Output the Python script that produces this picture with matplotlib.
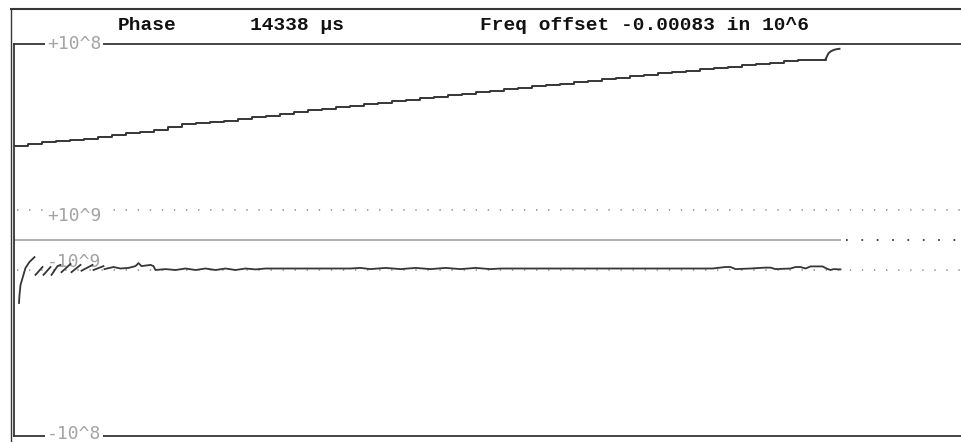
import numpy as np
import matplotlib.pyplot as plt
from matplotlib.lines import Line2D

# phase trace: one reading every 14 ticks, height above the lower frame edge
phase_step = 14
phase_h = [290, 292.2, 293.8, 294.9, 296.1, 297.5, 298.9, 300.9, 303, 304.5,
           306.5, 309.5, 311.7, 313, 314.2, 315.5, 317.2, 318.8, 320.5, 322.2,
           324, 325.7, 327.2, 328.7, 330.3, 331.8, 333.4, 334.9, 336.4, 337.9,
           339.4, 340.9, 342.4, 343.9, 345.4, 346.9, 348.3, 349.7, 351.1, 352.5,
           353.9, 355.4, 357, 358.4, 359.8, 361.4, 363, 364.2, 365.4, 366.8,
           368.1, 369.4, 370.8, 372.2, 373.5, 375, 376.5, 376, 376.7]
# last bit of the phase trace (turns up at the end)
tail_t = [812, 815, 817, 820, 823, 826]
tail_h = [376.7, 382.7, 384.5, 386, 386.8, 387.2]

# frequency offset in units of 1e-9, None = gap in the trace
freq_t = [5.5, 6, 7, 9, 12, 16, 21, 21.5,
          22, 29, 29.5,
          30, 37, 37.5,
          38, 44, 47, 47.5,
          48, 57, 57.5,
          58, 67, 67.5,
          68, 79, 79.5,
          80, 90, 90.5,
          91, 100, 107, 115, 122, 125, 128, 137, 140, 142, 152, 162, 172, 182,
          192, 202, 212, 222, 232, 242, 252, 262, 287, 312, 337, 347, 357, 372,
          387, 402, 417, 432, 447, 462, 477, 487, 537, 587, 637, 687, 699, 712,
          717, 722, 737, 752, 757, 762, 777, 782, 787, 792, 797, 809, 813, 817,
          820, 827]
freq_v = [-1.58, -1.41, -1.23, -1.12, -0.93, -0.73, -0.57, None,
          -1.07, -0.9, None,
          -1.07, -0.9, None,
          -1.07, -0.87, -0.83, None,
          -1.03, -0.8, None,
          -1.03, -0.83, None,
          -1.01, -0.83, None,
          -1.0, -0.87, None,
          -0.97, -0.9, -0.95, -0.93, -0.87, -0.77, -0.87, -0.83, -0.87, -1.0,
          -0.97, -1.0, -0.95, -1.0, -0.95, -1.0, -0.95, -1.0, -0.95, -0.98,
          -0.95, -0.95, -0.95, -0.95, -0.95, -0.93, -0.97, -0.93, -0.97, -0.93,
          -0.97, -0.93, -0.97, -0.93, -0.97, -0.95, -0.95, -0.95, -0.95, -0.95,
          -0.95, -0.9, -0.9, -0.97, -0.95, -0.92, -0.92, -0.97, -0.95, -0.9,
          -0.9, -0.95, -0.88, -0.88, -0.95, -1.0, -0.97, -0.98]

scale_vals = [10, 1, -1, -10]
scale_labels = ['+10^8', '+10^9', '-10^9', '-10^8']

dark = '#363636'
gray = '#a4a4a4'

fig = plt.figure(figsize=(9.61, 4.42), dpi=100)
W, H = 961, 442
ax = fig.add_axes([13.5 / W, 6 / H, 1 - 13.5 / W, 392 / H])
ax.set_yscale('symlog', linthresh=1, linscale=0.1627)
ax.set_ylim(-10, 10)
ax.set_xlim(0, 947.5)
ax.set_xticks([])
ax.set_yticks([])
ax.yaxis.set_minor_locator(plt.NullLocator())
for side in ['left', 'top', 'bottom']:
    ax.spines[side].set_color(dark)
    ax.spines[side].set_linewidth(1.3)
ax.spines['right'].set_visible(False)

# reference lines
t_end = freq_t[-1]
ax.hlines(0, 0, t_end, color='#a8a8a8', lw=1.3, zorder=1)
ax.hlines(0, t_end + 5, 947.5, color='#4a4a4a', lw=1.4,
          linestyles=(0, (0.9, 7.0)), zorder=1)
for v in [1, -1]:
    ax.hlines(v, 3, 947.5, color='#8a8a8a', lw=1.1,
              linestyles=(0, (0.9, 7.0)), zorder=1)

# scale labels
offs = {10: 0, 1: -4.5, -1: 5.5, -10: 1.3}
for v, lab in zip(scale_vals, scale_labels):
    bb = None if v == -1 else dict(facecolor='white', edgecolor='none', pad=1.5)
    ax.annotate(lab, xy=(0, v), xycoords=('axes fraction', 'data'),
                xytext=(24, offs[v]), textcoords='offset points',
                ha='left', va='center', color=gray, fontsize=13,
                family='DejaVu Sans Mono', bbox=bb,
                zorder=1.5 if v == -1 else 3, annotation_clip=False)

# frequency trace
fv = np.array(freq_v, dtype=float)
ax.plot(freq_t, fv, color=dark, lw=1.3, zorder=2)

# phase trace on its own scale
ax2 = ax.twinx()
ax2.set_ylim(0, 392)
ax2.set_yticks([])
for s in ax2.spines.values():
    s.set_visible(False)
pt = np.arange(len(phase_h)) * phase_step
ax2.plot(pt, phase_h, color=dark, lw=1.4, drawstyle='steps-post')
ax2.plot(tail_t, tail_h, color=dark, lw=1.4)

# outer frame
fig.add_artist(Line2D([10.5 / W, 1], [1 - 8.5 / H] * 2, color=dark, lw=1.5))
fig.add_artist(Line2D([11 / W] * 2, [0, 1 - 8.5 / H], color=dark, lw=1.0))

# header
hdr = dict(family='Liberation Mono', weight='bold', fontsize=14,
           va='baseline', ha='left', color='#111111')
fig.text(118 / W, 1 - 30 / H, 'Phase', **hdr)
fig.text(250 / W, 1 - 30 / H, '14338 μs', **hdr)
fig.text(480 / W, 1 - 30 / H, 'Freq offset -0.00083 in 10^6', **hdr)

fig.savefig('out.png', dpi=100)
